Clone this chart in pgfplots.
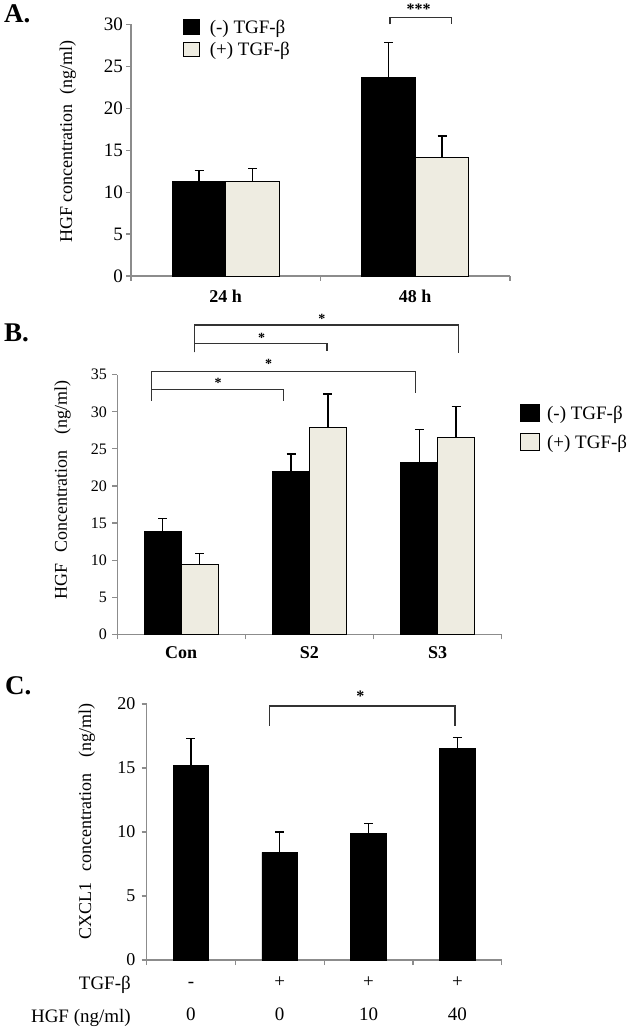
\documentclass[border=0pt]{standalone}
\usepackage{fontspec}
\setmainfont{Liberation Serif}
\usepackage{pgfplots}
\pgfplotsset{compat=1.18}
\definecolor{cream}{HTML}{EEECE1}
\definecolor{axgray}{HTML}{8C8C8C}
\newcommand{\fs}[1]{\fontsize{#1bp}{#1bp}\selectfont}
\pgfplotsset{
  mybars/.style={
    scale only axis,
    axis x line*=bottom, axis y line*=left,
    axis line style={axgray, line width=1.1bp},
    tick align=outside,
    major tick length=5bp,
    tick style={axgray, line width=1.1bp},
    x tick label as interval,
    ymin=0, enlargelimits=false, clip=false,
    /pgf/number format/assume math mode=true,
    ybar=0pt,
    yticklabel style={inner sep=0pt},
    xticklabel style={inner sep=0pt},
    legend cell align=left,
    error bars/y dir=plus, error bars/y explicit,
    error bars/error bar style={black, line width=1.3bp},
    error bars/error mark options={rotate=90, black, line width=1.3bp, mark size=4.5bp},
  },
  sqA/.style={legend image code/.code={\draw[##1, line width=0.9bp] (0bp,-7.3bp) rectangle (16.3bp,7.3bp); \path (26bp,0bp);}},
  sqB/.style={legend image code/.code={\draw[##1, line width=0.9bp] (0bp,-8.5bp) rectangle (18.3bp,8.5bp); \path (26bp,0bp);}},
}
\begin{document}
\begin{tikzpicture}
\path (0,0) rectangle (633bp,1031bp);
% panel letters
\node[anchor=base west, inner sep=0pt, font=\fs{27}\bfseries] at (4bp,1008bp) {A.};
\node[anchor=base west, inner sep=0pt, font=\fs{27}\bfseries] at (4bp,689.3bp) {B.};
\node[anchor=base west, inner sep=0pt, font=\fs{27}\bfseries] at (5bp,336bp) {C.};

% ---------------- Panel A
\begin{axis}[mybars, at={(131bp,755bp)}, anchor=south west,
  width=379bp, height=251.7bp, xmin=-0.5, xmax=1.5, ymax=30,
  bar width=53.5bp,
  xtick={-0.5,0.5,1.5}, xticklabels={24 h,48 h},
  ytick={0,5,...,30},
  yticklabel style={font=\fs{19}, xshift=-3bp},
  xticklabel style={font=\fs{18}\bfseries, yshift=-9bp},
  ylabel={HGF concentration\hspace{0.55em}(ng/ml)},
  ylabel style={font=\fs{18}, at={(axis description cs:-0.1668,0.5336)}, anchor=center},
  legend style={at={(axis description cs:0.1364,1.02)}, anchor=north west, draw=none, fill=none, inner sep=0pt, font=\fs{19}, row sep=6.7bp, nodes={inner sep=0pt}},
]
\addplot[fill=black, draw=black, line width=0.9bp, sqA] coordinates {(0,11.24) +- (0,1.31) (1,23.68) +- (0,4.17)};
\addlegendentry{(-) TGF-β}
\addplot[fill=cream, draw=black, line width=0.9bp, sqA] coordinates {(0,11.24) +- (0,1.56) (1,14.15) +- (0,2.55)};
\addlegendentry{(+) TGF-β}
\draw[black!80, line width=1.1bp] (axis cs:0.867,30.0) |- (axis cs:1.189,30.79) -- (axis cs:1.189,30.0);
\node[font=\fs{16}\bfseries, inner sep=0pt, yshift=-2.5bp] at (axis cs:1.018,32.1) {***};
\end{axis}

% ---------------- Panel B
\begin{axis}[mybars, at={(117.1bp,396.7bp)}, anchor=south west,
  width=384.7bp, height=259.6bp, xmin=-0.5, xmax=2.5, ymax=35,
  bar width=36.8bp,
  xtick={-0.5,0.5,1.5,2.5}, xticklabels={Con,S2,S3},
  ytick={0,5,...,35},
  yticklabel style={font=\fs{16}, xshift=-5bp},
  xticklabel style={font=\fs{18}\bfseries, yshift=-7bp},
  ylabel={HGF\hspace{0.6em}Concentration\hspace{0.9em}(ng/ml)},
  ylabel style={font=\fs{18}, at={(axis description cs:-0.1417,0.5559)}, anchor=center},
  legend style={at={(axis description cs:1.0473,0.886)}, anchor=north west, draw=none, fill=none, inner sep=0pt, font=\fs{19}, row sep=11bp, nodes={inner sep=0pt}},
]
\addplot[fill=black, draw=black, line width=0.9bp, sqB] coordinates {(0,13.88) +- (0,1.75) (1,22.0) +- (0,2.3) (2,23.2) +- (0,4.4)};
\addlegendentry{(-) TGF-β}
\addplot[fill=cream, draw=black, line width=0.9bp, sqB] coordinates {(0,9.43) +- (0,1.47) (1,27.9) +- (0,4.5) (2,26.56) +- (0,4.13)};
\addlegendentry{(+) TGF-β}
\draw[black!80, line width=1.1bp] (axis cs:-0.232,31.49) |- (axis cs:0.800,33.03) -- (axis cs:0.800,31.49);
\draw[black!80, line width=1.1bp] (axis cs:-0.232,32.53) |- (axis cs:1.830,35.46) -- (axis cs:1.830,32.53);
\draw[black!80, line width=1.1bp] (axis cs:0.104,38.0) |- (axis cs:1.137,39.23) -- (axis cs:1.137,38.24);
\draw[black!80, line width=1.1bp] (axis cs:0.104,38.0) |- (axis cs:2.161,41.70) -- (axis cs:2.161,37.97);
\node[font=\fs{14}\bfseries, inner sep=0pt, yshift=-2bp] at (axis cs:0.287,34.15) {*};
\node[font=\fs{14}\bfseries, inner sep=0pt, yshift=-2bp] at (axis cs:0.681,36.75) {*};
\node[font=\fs{14}\bfseries, inner sep=0pt, yshift=-2bp] at (axis cs:0.627,40.22) {*};
\node[font=\fs{14}\bfseries, inner sep=0pt, yshift=-2bp] at (axis cs:1.097,42.82) {*};
\end{axis}

% ---------------- Panel C
\begin{axis}[mybars, at={(146.5bp,71bp)}, anchor=south west,
  width=355.3bp, height=256bp, xmin=-0.5, xmax=3.5, ymax=20,
  bar width=35.5bp,
  xtick={-0.5,0.5,...,3.5},
  xticklabels={{\rule{0pt}{14bp}-\\0},{\rule{0pt}{14bp}+\\0},{\rule{0pt}{14bp}+\\10},{\rule{0pt}{14bp}+\\40}},
  ytick={0,5,...,20},
  yticklabel style={font=\fs{18}, xshift=-6bp},
  xticklabel style={font=\fontsize{19bp}{32.5bp}\selectfont, align=center, anchor=north, yshift=-8.5bp},
  ylabel={CXCL1\hspace{0.6em}concentration\hspace{0.9em}(ng/ml)},
  ylabel style={font=\fs{18}, at={(axis description cs:-0.168,0.540)}, anchor=center},
]
\addplot[fill=black, draw=black, line width=0.9bp] coordinates {(0,15.23) +- (0,2.06) (1,8.41) +- (0,1.59) (2,9.92) +- (0,0.76) (3,16.54) +- (0,0.83)};
\draw[black!80, line width=1.1bp] (axis cs:0.886,18.3) |- (axis cs:2.973,19.84) -- (axis cs:2.973,18.3);
\node[font=\fs{16}\bfseries, inner sep=0pt, yshift=-2.5bp] at (axis cs:1.909,20.78) {*};
\end{axis}
\node[anchor=base east, inner sep=0pt, font=\fs{19}] at (131bp,41.2bp) {TGF-β};
\node[anchor=base east, inner sep=0pt, font=\fs{19}] at (131bp,8.7bp) {HGF (ng/ml)};
\end{tikzpicture}
\end{document}
